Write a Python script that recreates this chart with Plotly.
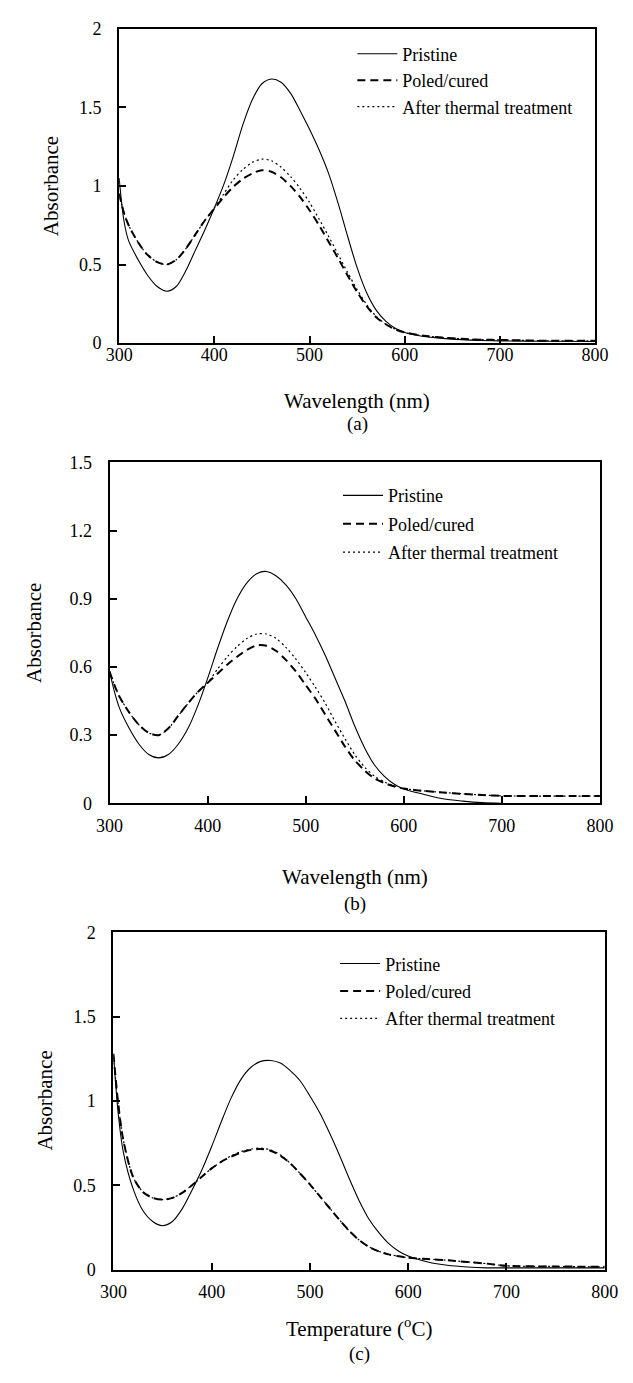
import plotly.graph_objects as go

W, H = 633, 1383

wavelength = [300, 305, 310, 320, 330, 340, 350, 360, 370, 380, 390, 400, 410, 420, 430,
              440, 450, 460, 470, 480, 490, 500, 510, 520, 530, 540, 550, 560, 570, 580,
              590, 600, 620, 640, 660, 680, 700, 750, 800]

series_names = ["Pristine", "Poled/cured", "After thermal treatment"]

# Panel (a)
a_pristine = [1.05, 0.78, 0.65, 0.53, 0.43, 0.36, 0.33, 0.36, 0.46, 0.59, 0.72, 0.86, 1.01, 1.19, 1.39,
              1.55, 1.65, 1.68, 1.66, 1.59, 1.48, 1.36, 1.23, 1.08, 0.89, 0.68, 0.48, 0.32, 0.21, 0.14,
              0.095, 0.068, 0.042, 0.03, 0.022, 0.017, 0.014, 0.012, 0.01]
a_poled = [0.95, 0.83, 0.75, 0.64, 0.56, 0.515, 0.50, 0.53, 0.60, 0.69, 0.78, 0.855, 0.93, 0.995, 1.045,
           1.08, 1.10, 1.09, 1.055, 1.00, 0.93, 0.845, 0.75, 0.645, 0.54, 0.43, 0.325, 0.235, 0.165, 0.12,
           0.088, 0.068, 0.047, 0.035, 0.027, 0.022, 0.02, 0.015, 0.015]
a_thermal = [0.95, 0.83, 0.75, 0.64, 0.56, 0.515, 0.50, 0.53, 0.60, 0.69, 0.78, 0.86, 0.95, 1.04, 1.105,
             1.15, 1.17, 1.16, 1.12, 1.06, 0.985, 0.895, 0.79, 0.68, 0.565, 0.45, 0.34, 0.245, 0.17, 0.122,
             0.09, 0.068, 0.047, 0.035, 0.027, 0.022, 0.02, 0.015, 0.015]

# Panel (b)
b_pristine = [0.58, 0.49, 0.42, 0.33, 0.26, 0.215, 0.20, 0.215, 0.26, 0.33, 0.43, 0.55, 0.68, 0.80, 0.90,
              0.97, 1.01, 1.02, 1.00, 0.96, 0.90, 0.82, 0.74, 0.65, 0.55, 0.45, 0.34, 0.245, 0.17, 0.12,
              0.085, 0.063, 0.04, 0.02, 0.01, 0.003, 0.0, None, None]
b_poled = [0.58, 0.52, 0.47, 0.40, 0.345, 0.31, 0.30, 0.33, 0.385, 0.44, 0.49, 0.53, 0.57, 0.61, 0.645,
           0.675, 0.695, 0.693, 0.67, 0.63, 0.58, 0.52, 0.46, 0.39, 0.32, 0.25, 0.19, 0.145, 0.11, 0.09,
           0.075, 0.065, 0.055, 0.048, 0.042, 0.037, 0.033, 0.032, 0.032]
b_thermal = [0.58, 0.52, 0.47, 0.40, 0.345, 0.31, 0.30, 0.33, 0.385, 0.44, 0.49, 0.53, 0.59, 0.645, 0.69,
             0.725, 0.745, 0.745, 0.725, 0.685, 0.635, 0.575, 0.51, 0.44, 0.36, 0.285, 0.215, 0.16, 0.12, 0.095,
             0.077, 0.065, 0.055, 0.048, 0.042, 0.037, 0.033, 0.032, 0.032]

# Panel (c)
c_pristine = [1.28, 0.92, 0.70, 0.48, 0.35, 0.285, 0.26, 0.285, 0.36, 0.47, 0.59, 0.73, 0.88, 1.02, 1.13,
              1.20, 1.235, 1.24, 1.225, 1.18, 1.12, 1.03, 0.93, 0.81, 0.68, 0.54, 0.41, 0.30, 0.22, 0.155,
              0.11, 0.08, 0.045, 0.025, 0.015, 0.01, 0.01, 0.01, 0.01]
c_poled = [1.28, 0.98, 0.77, 0.55, 0.46, 0.425, 0.415, 0.425, 0.455, 0.50, 0.55, 0.60, 0.64, 0.67, 0.695,
           0.71, 0.715, 0.705, 0.675, 0.63, 0.57, 0.505, 0.435, 0.365, 0.295, 0.23, 0.175, 0.135, 0.108, 0.09,
           0.079, 0.07, 0.062, 0.055, 0.045, 0.035, 0.022, 0.018, 0.016]
c_thermal = [1.26, 0.98, 0.77, 0.55, 0.46, 0.425, 0.415, 0.425, 0.455, 0.50, 0.55, 0.60, 0.64, 0.675, 0.70,
             0.715, 0.72, 0.71, 0.68, 0.63, 0.57, 0.505, 0.435, 0.365, 0.295, 0.23, 0.175, 0.135, 0.108, 0.09,
             0.079, 0.07, 0.062, 0.055, 0.045, 0.035, 0.022, 0.018, 0.016]

x_ticks = [300, 400, 500, 600, 700, 800]
a_yticks = [0, 0.5, 1, 1.5, 2]
b_yticks = [0, 0.3, 0.6, 0.9, 1.2, 1.5]
c_yticks = [0, 0.5, 1, 1.5, 2]

panel_titles_x = ["Wavelength (nm)", "Wavelength (nm)", "Temperature (<sup>o</sup>C)"]
panel_labels = ["(a)", "(b)", "(c)"]

FONT = "Liberation Serif"

# pixel layout: (left, right, top, bottom)
boxes = [(110, 608, 19, 338), (100, 613, 459, 805), (104, 618, 936, 1278)]
legend_pos = [(354, 26), (339, 474), (336, 949)]
legend_gap = [0, 2, 1]
label_y = [420, 907, 1364]
xtitle_y = [397, 880, 1337]
ytitle_x = [39, 21, 32]
xlabel_standoff = [-6, 5, 5]

panels = [
    (a_pristine, a_poled, a_thermal, [0, 2], a_yticks),
    (b_pristine, b_poled, b_thermal, [0, 1.5], b_yticks),
    (c_pristine, c_poled, c_thermal, [0, 2], c_yticks),
]

styles = [dict(color="black", width=1.1, dash="solid"),
          dict(color="black", width=2.0, dash="8px,5px"),
          dict(color="black", width=1.2, dash="2px,3px")]

fig = go.Figure()
layout = dict(width=W, height=H, margin=dict(l=0, r=0, t=0, b=0),
              paper_bgcolor="white", plot_bgcolor="white",
              font=dict(family=FONT, color="black", size=18))
annotations = []

for i, (pr, po, th, yr, yt) in enumerate(panels):
    n = "" if i == 0 else str(i + 1)
    xa, ya = "x" + n, "y" + n
    leg = "legend" + n
    for k, (name, vals, st) in enumerate(zip(series_names, [pr, po, th], styles)):
        fig.add_trace(go.Scatter(x=wavelength, y=vals, name=name, mode="lines",
                                 line=dict(shape="spline", smoothing=0.8, **st),
                                 xaxis=xa, yaxis=ya, legend=leg, connectgaps=False,
                                 legendgroup=f"p{i}s{k}"))
    l, r, t, b = boxes[i]
    axcommon = dict(showline=True, linecolor="black", linewidth=2, mirror=True,
                    ticks="inside", ticklen=7, tickwidth=1.5, tickcolor="black",
                    showgrid=False, zeroline=False,
                    tickfont=dict(family=FONT, size=18, color="black"))
    layout["xaxis" + n] = dict(domain=[l / W, r / W], range=[300, 800], tickvals=x_ticks,
                               anchor=ya, ticklabelstandoff=xlabel_standoff[i], **axcommon)
    layout["yaxis" + n] = dict(domain=[1 - b / H, 1 - t / H], range=yr, tickvals=yt,
                               anchor=xa, ticklabelstandoff=12, **axcommon)
    lx, ly = legend_pos[i]
    layout[leg] = dict(x=lx / W, y=1 - ly / H, xanchor="left", yanchor="top",
                       xref="paper", yref="paper", bgcolor="rgba(0,0,0,0)",
                       font=dict(family=FONT, size=18, color="black"),
                       itemwidth=40, tracegroupgap=legend_gap[i])
    annotations.append(dict(text=panel_titles_x[i], x=(l + r) / 2 / W, y=1 - xtitle_y[i] / H,
                            xref="paper", yref="paper", showarrow=False,
                            xanchor="center", yanchor="middle",
                            font=dict(family=FONT, size=21, color="black")))
    annotations.append(dict(text="Absorbance", x=ytitle_x[i] / W, y=1 - (t + b) / 2 / H,
                            xref="paper", yref="paper", showarrow=False, textangle=-90,
                            xanchor="center", yanchor="middle",
                            font=dict(family=FONT, size=21, color="black")))
    annotations.append(dict(text=panel_labels[i], x=(l + r) / 2 / W, y=1 - label_y[i] / H,
                            xref="paper", yref="paper", showarrow=False,
                            xanchor="center", yanchor="middle",
                            font=dict(family=FONT, size=19, color="black")))

layout["annotations"] = annotations
fig.update_layout(**layout)
fig.write_html("out.html", config={"displayModeBar": False},
               post_script="document.body.style.margin='0px';")
